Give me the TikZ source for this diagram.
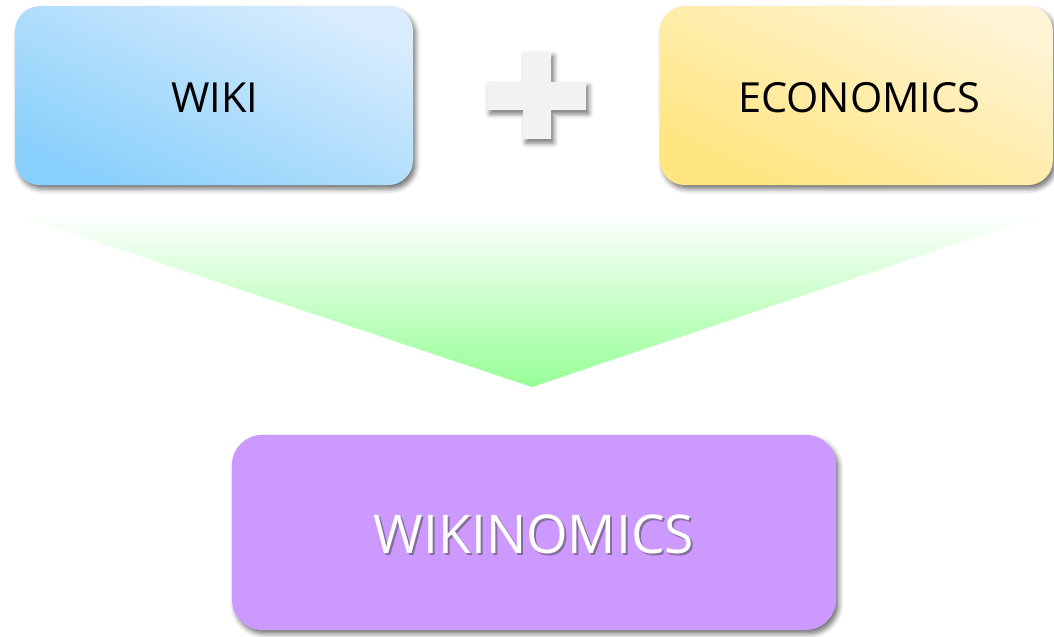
\documentclass[tikz,border=0pt]{standalone}
\usepackage{fontspec}
\setmainfont{Open Sans}
\usetikzlibrary{shadows.blur}

\definecolor{wikidark}{RGB}{138,208,252}
\definecolor{wikilight}{RGB}{216,236,253}
\definecolor{ecodark}{RGB}{255,229,128}
\definecolor{ecolight}{RGB}{255,244,212}
\definecolor{funnelgreen}{RGB}{150,255,150}
\definecolor{mixviolet}{RGB}{204,153,255}
\definecolor{plusgray}{RGB}{242,242,242}

\begin{document}
\begin{tikzpicture}
\tikzstyle{every node}+=[inner sep=0pt]
\tikzstyle{soft shadow}=[blur shadow={shadow xshift=0.07cm, shadow yshift=-0.1cm, shadow blur radius=0.12cm, shadow opacity=55}]
\tikzstyle{topbox}=[rectangle, rounded corners=0.625cm, minimum height=4.475cm, soft shadow, shading=axis, shading angle=-25]
\tikzstyle{toplabel}=[font=\fontsize{29.5}{34}\selectfont]
\useasboundingbox (0,0) rectangle (26.35,-15.9);
% funnel between the two inputs and the result
\shade [top color=white, bottom color=funnelgreen] (0.2,-5.3) -- (26.25,-5.3) -- (13.3,-9.675) -- cycle;
% the two inputs
\node [topbox, minimum width=9.95cm, top color=wikilight, bottom color=wikidark, shading angle=-25] (wiki) at (5.35,-2.39) {};
\node [topbox, minimum width=9.825cm, top color=ecolight, bottom color=ecodark, shading angle=-25] (econ) at (21.41,-2.39) {};
\node [toplabel] (wikitext) at (5.37,-2.45) {WIKI};
\node [toplabel] (econtext) at (21.48,-2.45) {ECONOMICS};
% plus sign
\fill [plusgray, soft shadow] (13.075,-1.3) -- (13.775,-1.3) -- (13.775,-2.05) -- (14.65,-2.05) -- (14.65,-2.75) -- (13.775,-2.75) -- (13.775,-3.475) -- (13.075,-3.475) -- (13.075,-2.75) -- (12.175,-2.75) -- (12.175,-2.05) -- (13.075,-2.05) -- cycle;
% the result
\node [rectangle, rounded corners=0.75cm, minimum width=15.1cm, minimum height=4.875cm, fill=mixviolet, soft shadow] (wikinomics) at (13.35,-13.31) {};
\node [text=black!70, opacity=0.55, font=\fontsize{38}{42}\selectfont] (wikinomicsshade) at (13.4,-13.4) {WIKINOMICS};
\node [text=white, font=\fontsize{38}{42}\selectfont] (wikinomicstext) at (13.35,-13.35) {WIKINOMICS};
\end{tikzpicture}
\end{document}
